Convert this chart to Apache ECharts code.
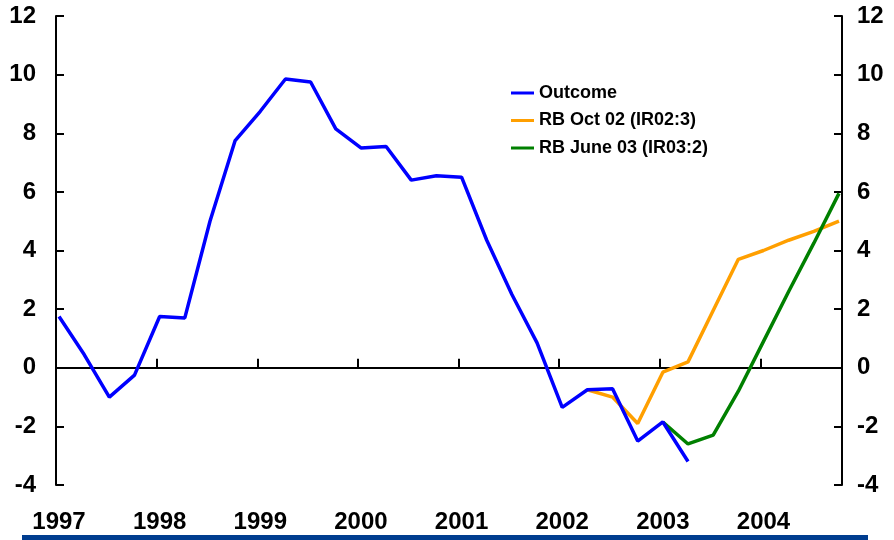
<!DOCTYPE html>
<html>
<head>
<meta charset="utf-8">
<script src="https://cdn.jsdelivr.net/npm/echarts@6/dist/echarts.min.js"></script>
<style>
html, body { margin: 0; padding: 0; background: #fff; }
#chart { width: 894px; height: 540px; }
</style>
</head>
<body>
<div id="chart"></div>
<script>
// quarterly observations, 1997Q1 - 2004Q4
var quarters = [
    '1997Q1', '1997Q2', '1997Q3', '1997Q4', '1998Q1', '1998Q2', '1998Q3', '1998Q4',
    '1999Q1', '1999Q2', '1999Q3', '1999Q4', '2000Q1', '2000Q2', '2000Q3', '2000Q4',
    '2001Q1', '2001Q2', '2001Q3', '2001Q4', '2002Q1', '2002Q2', '2002Q3', '2002Q4',
    '2003Q1', '2003Q2', '2003Q3', '2003Q4', '2004Q1', '2004Q2', '2004Q3', '2004Q4'
];

var outcome = [1.75, 0.45, -1.0, -0.25, 1.75, 1.7, 5.0, 7.75, 8.75, 9.85, 9.75, 8.15,
    7.5, 7.55, 6.4, 6.55, 6.5, 4.35, 2.5, 0.85, -1.35, -0.75, -0.72, -2.5, -1.85, -3.2];

var rbOct02 = [null, null, null, null, null, null, null, null, null, null, null, null,
    null, null, null, null, null, null, null, null, null,
    -0.75, -1.0, -1.9, -0.15, 0.2, 1.95, 3.7, 4.0, 4.35, 4.65, 5.0];

var rbJune03 = [null, null, null, null, null, null, null, null, null, null, null, null,
    null, null, null, null, null, null, null, null, null, null, null, null,
    -1.85, -2.6, -2.3, -0.8, 0.9, 2.6, 4.25, 5.95];

var yearLabels = ['1997', '1998', '1999', '2000', '2001', '2002', '2003', '2004'];
var seriesNames = ['Outcome', 'RB Oct 02 (IR02:3)', 'RB June 03 (IR03:2)'];

// each quarter is plotted a little after the start of its first month
function toX(q) {
    var yr = parseInt(q.slice(0, 4));
    var n = parseInt(q.slice(5));
    return yr + (n - 1) / 4 + 0.03;
}

function pairs(vals) {
    var out = [];
    for (var i = 0; i < vals.length; i++) {
        if (vals[i] != null) out.push([toX(quarters[i]), vals[i]]);
    }
    return out;
}

var font = 'Liberation Sans, Arial, sans-serif';
var xMin = 1997, xMax = 2004.81;

function yAxis(pos, margin) {
    return {
        type: 'value', position: pos, min: -4, max: 12, interval: 2,
        axisLine: { show: true, onZero: false, lineStyle: { color: '#000', width: 2 } },
        axisTick: { show: true, inside: true, length: 8, lineStyle: { color: '#000', width: 2 } },
        axisLabel: { margin: margin, fontSize: 24, fontWeight: 'bold', color: '#000', fontFamily: font },
        splitLine: { show: false }
    };
}

var myChart = echarts.init(document.getElementById('chart'));
var option = {
    animation: false,
    backgroundColor: '#fff',
    grid: { left: 56, right: 52, top: 16, bottom: 55 },
    legend: {
        data: seriesNames,
        orient: 'vertical',
        left: 506, top: 79,
        itemWidth: 23, itemHeight: 3, itemGap: 9.5,
        icon: 'rect',
        textStyle: { fontSize: 18, fontWeight: 'bold', fontFamily: font, color: '#000' }
    },
    xAxis: [{
        type: 'value', min: xMin, max: xMax, interval: 1,
        axisLine: { onZero: true, lineStyle: { color: '#000', width: 2 } },
        axisTick: { inside: true, length: 9, lineStyle: { color: '#000', width: 2 } },
        axisLabel: { show: false },
        splitLine: { show: false }
    }, {
        type: 'value', min: xMin, max: xMax, interval: 1, position: 'bottom',
        axisLine: { show: false, onZero: false },
        axisTick: { show: false },
        axisLabel: {
            margin: 25, fontSize: 24, fontWeight: 'bold', color: '#000', fontFamily: font,
            padding: [0, 0, 0, 6], showMaxLabel: false,
            formatter: function (v) {
                var k = Math.round(v - xMin);
                return Math.abs(v - xMin - k) < 1e-6 && yearLabels[k] ? yearLabels[k] : '';
            }
        },
        splitLine: { show: false }
    }],
    yAxis: [yAxis('left', 20), yAxis('right', 15)],
    graphic: [{
        type: 'rect', left: 22, top: 535,
        shape: { width: 846, height: 5 },
        style: { fill: '#003d8f' }
    }],
    series: [{
        name: seriesNames[1], type: 'line', data: pairs(rbOct02),
        symbol: 'none', color: '#ff9f00', lineStyle: { width: 3.5 }
    }, {
        name: seriesNames[2], type: 'line', data: pairs(rbJune03),
        symbol: 'none', color: '#008000', lineStyle: { width: 3.5 }
    }, {
        name: seriesNames[0], type: 'line', data: pairs(outcome),
        symbol: 'none', color: '#0000ff', lineStyle: { width: 3.5 }
    }]
};
myChart.setOption(option);
</script>
</body>
</html>
